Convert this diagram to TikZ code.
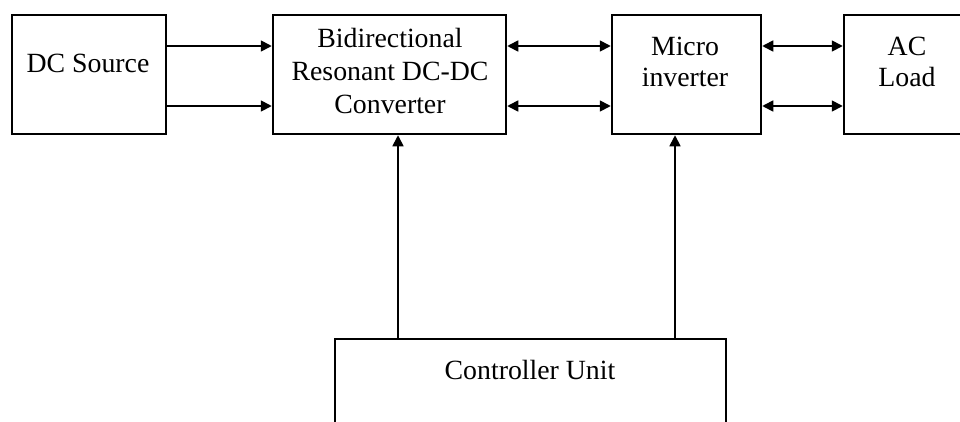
\documentclass[tikz,border=0pt]{standalone}
\usepackage{fontspec}
\setmainfont{Liberation Serif}
\usetikzlibrary{arrows.meta}
\begin{document}
\begin{tikzpicture}[x=1pt,y=-1pt,
  box/.style={draw, line width=2.5pt, inner sep=0pt},
  txt/.style={font=\fontsize{27.8}{33}\selectfont, align=center, inner sep=0pt},
  txtb/.style={font=\fontsize{27.8}{30.5}\selectfont, align=center, inner sep=0pt},
  arr/.style={line width=1.7pt, -{Triangle[length=11pt,width=11pt]}},
  darr/.style={line width=1.7pt, {Triangle[length=11pt,width=11pt]}-{Triangle[length=11pt,width=11pt]}}]
\useasboundingbox (0,0) rectangle (960,421);
\clip (0,0) rectangle (960,421);
% boxes
\node[box, minimum width=154pt, minimum height=119pt] (dc) at (89,74.5) {};
\node[box, minimum width=233pt, minimum height=119pt] (conv) at (389.5,74.5) {};
\node[box, minimum width=149pt, minimum height=119pt] (inv) at (686.5,74.5) {};
\node[box, minimum width=140pt, minimum height=119pt] (load) at (914,74.5) {};
\node[box, minimum width=391pt, minimum height=141pt] (ctrl) at (530.5,409.5) {};
% texts
\node[txt] (dct) at (88,63) {DC Source};
\node[txt] (convt) at (390,71) {Bidirectional\\Resonant DC-DC\\Converter};
\node[txtb] (invt) at (685,62) {Micro\\inverter};
\node[txtb] (loadt) at (907,62) {AC\\Load};
\node[txt] (ctrlt) at (530,370) {Controller Unit};
% connectors
\draw[arr] (dc.east |- 0,46) -- (conv.west |- 0,46);
\draw[arr] (dc.east |- 0,106) -- (conv.west |- 0,106);
\draw[darr] (conv.east |- 0,46) -- (inv.west |- 0,46);
\draw[darr] (conv.east |- 0,106) -- (inv.west |- 0,106);
\draw[darr] (inv.east |- 0,46) -- (load.west |- 0,46);
\draw[darr] (inv.east |- 0,106) -- (load.west |- 0,106);
\draw[arr] (ctrl.north -| 398,0) -- (conv.south -| 398,0);
\draw[arr] (ctrl.north -| 675,0) -- (inv.south -| 675,0);
\end{tikzpicture}
\end{document}
